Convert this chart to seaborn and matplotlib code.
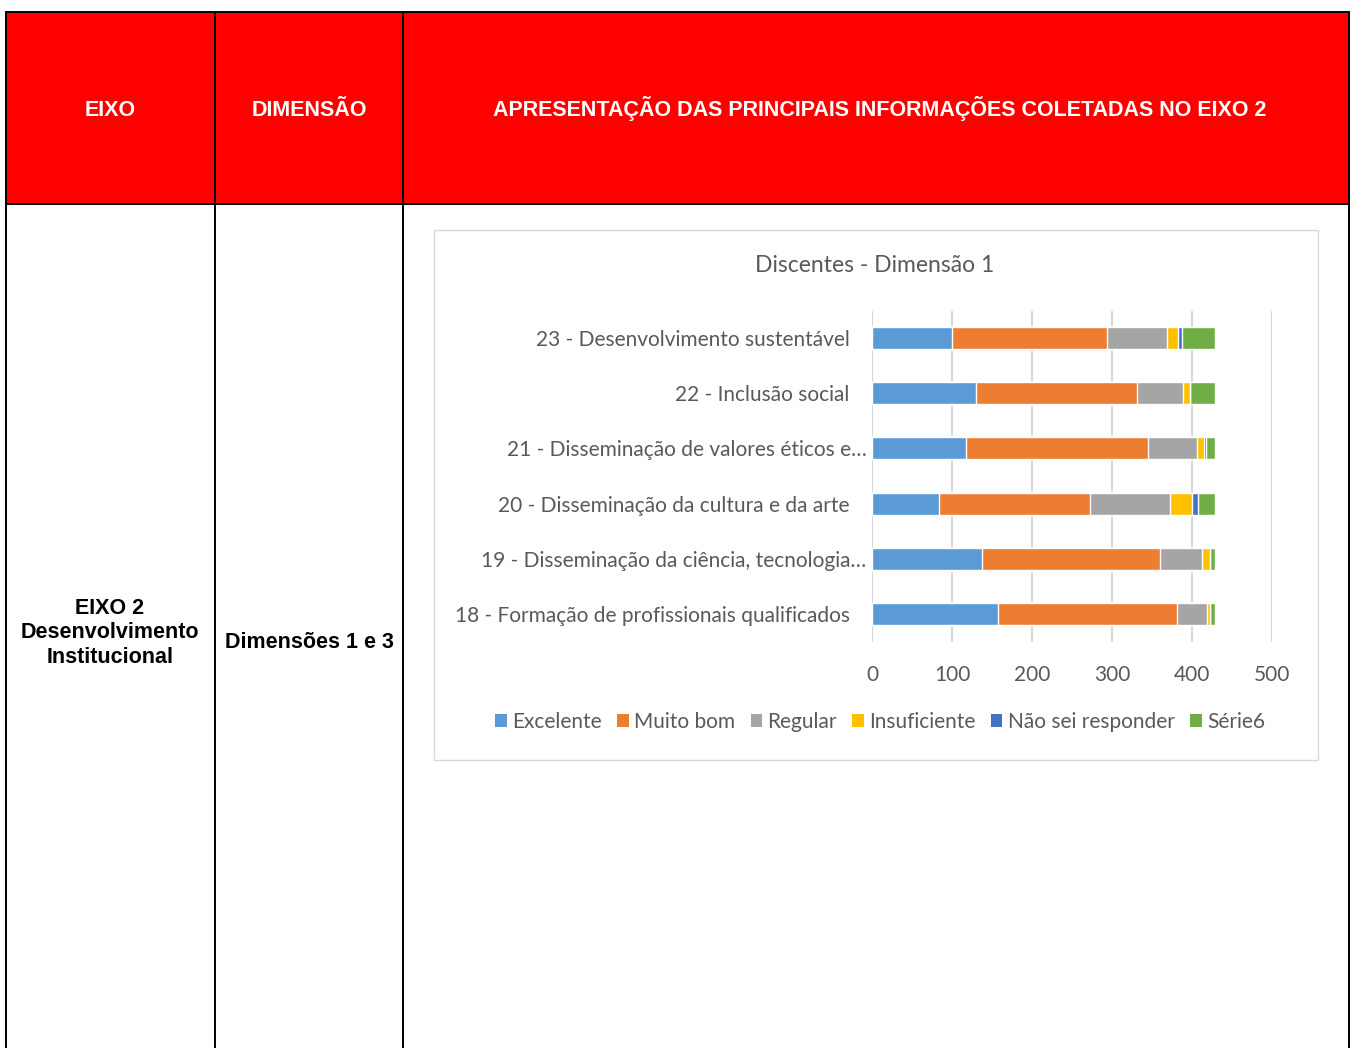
import matplotlib
matplotlib.use("Agg")
import matplotlib.pyplot as plt
import seaborn as sns
import pandas as pd
import numpy as np
from matplotlib.patches import Rectangle, Patch
from matplotlib.lines import Line2D

# ---------------- data ----------------
categories = [
    "23 - Desenvolvimento sustentável",
    "22 - Inclusão social",
    "21 - Disseminação de valores éticos e…",
    "20 - Disseminação da cultura e da arte",
    "19 - Disseminação da ciência, tecnologia…",
    "18 - Formação de profissionais qualificados",
]
series_names = ["Excelente", "Muito bom", "Regular", "Insuficiente", "Não sei responder", "Série6"]
excelente = [100, 130, 118, 84, 138, 157]
muito_bom = [194, 201, 227, 189, 222, 224]
regular = [75, 58, 61, 100, 53, 38]
insuficiente = [14, 8, 9, 27, 9, 3]
nao_sei = [5, 0, 3, 7, 1, 1]
serie6 = [41, 32, 11, 22, 6, 6]
x_ticks = [0, 100, 200, 300, 400, 500]

colors = ["#5B9BD5", "#ED7D31", "#A5A5A5", "#FFC000", "#4472C4", "#70AD47"]

header_labels = ["EIXO", "DIMENSÃO", "APRESENTAÇÃO DAS PRINCIPAIS INFORMAÇÕES COLETADAS NO EIXO 2"]
body_col1 = "EIXO 2\nDesenvolvimento\nInstitucional"
body_col2 = "Dimensões 1 e 3"
chart_title = "Discentes - Dimensão 1"

# ---------------- figure ----------------
sns.set_theme(style="white")
plt.rcParams["font.family"] = ["Lato", "DejaVu Sans"]

W, H = 1354, 1048
fig = plt.figure(figsize=(W / 100, H / 100), dpi=100)
fig.patch.set_facecolor("white")


def fx(px):
    return px / W


def fy(py):
    return 1 - py / H


# table header fill
fig.patches.append(Rectangle((fx(6), fy(204)), fx(1349) - fx(6), fy(12) - fy(204),
                             transform=fig.transFigure, facecolor="#FF0000", edgecolor="none", zorder=0))
# table lines
lw = 1.4
for x in [6, 215, 403, 1349]:
    fig.add_artist(Line2D([fx(x), fx(x)], [fy(12), fy(1048)], transform=fig.transFigure,
                          color="black", lw=lw, zorder=5))
for y in [12, 204]:
    fig.add_artist(Line2D([fx(6), fx(1349)], [fy(y), fy(y)], transform=fig.transFigure,
                          color="black", lw=lw, zorder=5))

hfont = dict(family=["Liberation Sans", "DejaVu Sans"], weight="bold", fontsize=15.5)
fig.text(fx(110), fy(116), header_labels[0], color="white", ha="center", va="baseline", **hfont)
fig.text(fx(309), fy(116), header_labels[1], color="white", ha="center", va="baseline", **hfont)
fig.text(fx(880), fy(116), header_labels[2], color="white", ha="center", va="baseline", **hfont)
fig.text(fx(110), fy(633), body_col1, color="black", ha="center", va="center",
         linespacing=1.2, **hfont)
fig.text(fx(309), fy(648), body_col2, color="black", ha="center", va="baseline", **hfont)

# chart frame
fig.patches.append(Rectangle((fx(433.5), fy(760)), fx(1318) - fx(433.5), fy(230) - fy(760),
                             transform=fig.transFigure, facecolor="white", edgecolor="#D9D9D9",
                             lw=1.0, zorder=1))
fig.text(fx(875), fy(265), chart_title, color="#595959", ha="center", va="center", fontsize=16.5)

# axes: plot area
ax = fig.add_axes([fx(872), fy(641.5), fx(1272) - fx(872), fy(310.5) - fy(641.5)])
ax.set_zorder(3)
ax.patch.set_alpha(0)

df = pd.DataFrame({"categoria": categories})
vals = [excelente, muito_bom, regular, insuficiente, nao_sei, serie6]
cum = np.cumsum(np.array(vals, dtype=float), axis=0)
for i in range(len(series_names) - 1, -1, -1):
    df["v"] = cum[i]
    sns.barplot(data=df, x="v", y="categoria", order=categories, color=colors[i],
                width=0.4, saturation=1, ax=ax, orient="h")

ax.set_xlim(0, 500)
ax.set_xticks(x_ticks)
ax.set_xticklabels([str(t) for t in x_ticks])
ax.set_xlabel("")
ax.set_ylabel("")
for s in ax.spines.values():
    s.set_visible(False)
ax.grid(axis="x", color="#D9D9D9", lw=1.5)
ax.grid(axis="y", visible=False)
ax.set_axisbelow(True)
ax.tick_params(axis="x", length=0, pad=17, labelsize=15, labelcolor="#595959")
ax.tick_params(axis="y", length=0, labelsize=15, labelcolor="#595959")
ticks = ax.yaxis.get_major_ticks()
for t, lab in zip(ticks, categories):
    t.set_pad(4 if lab.endswith("…") else 16)

handles = [Patch(facecolor=c, edgecolor="none") for c in colors]
fig.legend(handles, series_names, loc="center", bbox_to_anchor=(fx(880), fy(722)), ncol=6,
           frameon=False, fontsize=15, labelcolor="#595959", handlelength=0.55, handleheight=0.55,
           handletextpad=0.25, columnspacing=0.75)

fig.savefig("out.png", dpi=100)
